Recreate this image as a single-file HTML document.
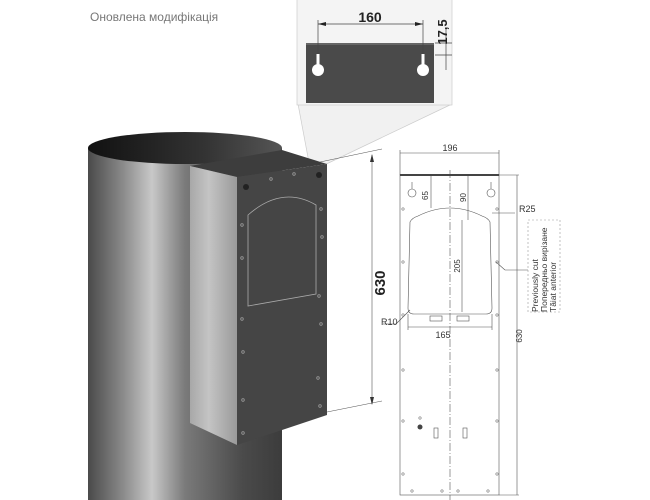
<!DOCTYPE html>
<html><head><meta charset="utf-8"><style>
html,body{margin:0;padding:0;background:#fff;}
svg{display:block;font-family:"Liberation Sans",sans-serif;}
</style></head><body>
<svg width="650" height="500" viewBox="0 0 650 500" xmlns="http://www.w3.org/2000/svg">
<defs>
<linearGradient id="pole" x1="0" x2="1" y1="0" y2="0">
<stop offset="0" stop-color="#4a4a4a"/><stop offset="0.18" stop-color="#8a8a8a"/>
<stop offset="0.33" stop-color="#c8c8c8"/><stop offset="0.5" stop-color="#7a7a7a"/>
<stop offset="0.8" stop-color="#4a4a4a"/><stop offset="1" stop-color="#3c3c3c"/></linearGradient>
<linearGradient id="side" x1="0" x2="1"><stop offset="0" stop-color="#a8a8a8"/><stop offset="0.4" stop-color="#c4c4c4"/><stop offset="1" stop-color="#9a9a9a"/></linearGradient>
<linearGradient id="top" x1="0" x2="1"><stop offset="0" stop-color="#111"/><stop offset="0.6" stop-color="#333"/><stop offset="1" stop-color="#555"/></linearGradient>
</defs>
<text x="90" y="21" font-size="12" fill="#777">Оновлена модифікація</text>

<!-- callout -->
<polygon points="298,104 452,104 318,168 310,168" fill="#f1f1f1" stroke="#ccc" stroke-width="0.7"/>
<rect x="297" y="-1" width="155" height="106" fill="#f4f4f4" stroke="#ccc" stroke-width="0.7"/>
<rect x="306" y="43" width="128" height="60" fill="#4a4a4a"/>
<rect x="306" y="43" width="128" height="2" fill="#666"/>
<g fill="#fff"><rect x="316.5" y="54" width="3" height="14"/><circle cx="318" cy="70" r="6"/>
<rect x="421.5" y="54" width="3" height="14"/><circle cx="423" cy="70" r="6"/></g>
<g stroke="#444" stroke-width="0.7"><line x1="318" y1="20" x2="318" y2="54"/><line x1="423" y1="20" x2="423" y2="54"/>
<line x1="318" y1="24" x2="423" y2="24"/><line x1="435" y1="43" x2="452" y2="43"/><line x1="435" y1="55" x2="452" y2="55"/>
<line x1="446" y1="30" x2="446" y2="70"/></g>
<polygon points="318,24 326,22 326,26" fill="#222"/><polygon points="423,24 415,22 415,26" fill="#222"/>
<text x="370" y="22" font-size="14" font-weight="bold" text-anchor="middle" fill="#222">160</text>
<text transform="translate(447,32) rotate(-90)" font-size="13" font-weight="bold" fill="#222" text-anchor="middle">17,5</text>

<!-- pole -->
<rect x="88" y="148" width="194" height="352" fill="url(#pole)"/>
<ellipse cx="185" cy="148" rx="97" ry="16" fill="url(#top)"/>
<!-- box -->
<polygon points="190,166 282,150 327,164 237,177" fill="#3d3d3d"/>
<polygon points="190,166 237,177 237,445 190,423" fill="url(#side)"/>
<polygon points="237,177 327,164 327,415 237,445" fill="#454545"/>
<path d="M248,215 Q282,185 316,205 L316,294 L248,306 Z" fill="none" stroke="#aaa" stroke-width="0.8"/>
<g fill="#222"><circle cx="246" cy="187" r="3"/><circle cx="319" cy="175" r="3"/></g>
<g fill="none" stroke="#999" stroke-width="0.8">
<circle cx="271" cy="179" r="1.3"/><circle cx="294" cy="174" r="1.3"/><circle cx="242" cy="225" r="1.3"/><circle cx="242" cy="258" r="1.3"/>
<circle cx="321" cy="209" r="1.3"/><circle cx="322" cy="237" r="1.3"/><circle cx="319" cy="296" r="1.3"/><circle cx="321" cy="324" r="1.3"/>
<circle cx="242" cy="319" r="1.3"/><circle cx="243" cy="352" r="1.3"/><circle cx="318" cy="378" r="1.3"/><circle cx="320" cy="406" r="1.3"/>
<circle cx="243" cy="400" r="1.3"/><circle cx="243" cy="433" r="1.3"/></g>

<!-- 630 left dim -->
<g stroke="#555" stroke-width="0.6" fill="none"><line x1="320" y1="162" x2="382" y2="149"/><line x1="327" y1="412" x2="382" y2="401"/>
<line x1="372" y1="155" x2="372" y2="404"/></g>
<polygon points="372,154 370,162 374,162" fill="#333"/><polygon points="372,405 370,397 374,397" fill="#333"/>
<text transform="translate(385,283) rotate(-90)" font-size="15" font-weight="bold" fill="#222" text-anchor="middle">630</text>

<!-- right plate drawing -->
<g stroke="#555" stroke-width="0.6" fill="none">
<rect x="400" y="175" width="99" height="320"/>
<line x1="499" y1="175" x2="519" y2="175"/><line x1="499" y1="495" x2="519" y2="495"/>
<line x1="517" y1="175" x2="517" y2="495"/>
<line x1="400" y1="150" x2="400" y2="175"/><line x1="499" y1="150" x2="499" y2="175"/>
<line x1="400" y1="153" x2="499" y2="153"/>
<line x1="450" y1="170" x2="450" y2="500" stroke-dasharray="8,2,1,2"/>
<path d="M410,222 Q412,218 418,216 Q450,200 482,216 Q488,218 490,222 L492,308 Q492,314 486,314 L414,314 Q408,314 408,308 Z"/>
<line x1="431" y1="175" x2="431" y2="208"/><line x1="468" y1="175" x2="468" y2="220"/>
<line x1="462" y1="220" x2="462" y2="312"/>
<line x1="408" y1="327" x2="492" y2="327"/><line x1="408" y1="314" x2="408" y2="330"/><line x1="492" y1="314" x2="492" y2="330"/>
<line x1="492" y1="213" x2="515" y2="213"/>
<line x1="496" y1="262" x2="505" y2="270" /><line x1="505" y1="270" x2="528" y2="270"/>
<line x1="396" y1="324" x2="410" y2="310"/><line x1="383" y1="324" x2="396" y2="324"/>
<path d="M408,193 a4,4 0 1 1 8,0 a4,4 0 1 1 -8,0 Z M412,189 l0,-7"/>
<path d="M487,193 a4,4 0 1 1 8,0 a4,4 0 1 1 -8,0 Z M491,189 l0,-7"/>
<rect x="430" y="316" width="12" height="5"/><rect x="457" y="316" width="12" height="5"/>
<rect x="434" y="428" width="4" height="10"/><rect x="463" y="428" width="4" height="10"/>
</g>
<rect x="400" y="174" width="99" height="2" fill="#444"/>
<g fill="none" stroke="#777" stroke-width="0.6">
<circle cx="403" cy="209" r="1.2"/><circle cx="497" cy="209" r="1.2"/><circle cx="403" cy="262" r="1.2"/><circle cx="497" cy="262" r="1.2"/>
<circle cx="403" cy="315" r="1.2"/><circle cx="497" cy="315" r="1.2"/><circle cx="403" cy="370" r="1.2"/><circle cx="497" cy="370" r="1.2"/>
<circle cx="403" cy="421" r="1.2"/><circle cx="497" cy="421" r="1.2"/><circle cx="403" cy="474" r="1.2"/><circle cx="497" cy="474" r="1.2"/>
<circle cx="412" cy="491" r="1.2"/><circle cx="442" cy="491" r="1.2"/><circle cx="458" cy="491" r="1.2"/><circle cx="488" cy="491" r="1.2"/>
<circle cx="420" cy="418" r="1.2"/></g>
<circle cx="420" cy="427" r="2.5" fill="#444"/>
<g font-size="8" fill="#333">
<text x="450" y="151" text-anchor="middle" font-size="9">196</text>
<text x="443" y="338" text-anchor="middle" font-size="9">165</text>
<text x="519" y="212" font-size="9">R25</text>
<text x="381" y="325" font-size="9">R10</text>
<text transform="translate(428,200) rotate(-90)">65</text>
<text transform="translate(466,202) rotate(-90)">90</text>
<text transform="translate(460,266) rotate(-90)" text-anchor="middle">205</text>
<text transform="translate(522,336) rotate(-90)" text-anchor="middle">630</text>
</g>
<rect x="528" y="220" width="32" height="92" fill="none" stroke="#999" stroke-width="0.6" stroke-dasharray="2,2"/>
<g font-size="8.5" fill="#333">
<text transform="translate(538,312) rotate(-90)">Previously cut</text>
<text transform="translate(547,312) rotate(-90)">Попередньо вирізане</text>
<text transform="translate(556,312) rotate(-90)">Tăiat anterior</text>
</g>
</svg>
</body></html>
